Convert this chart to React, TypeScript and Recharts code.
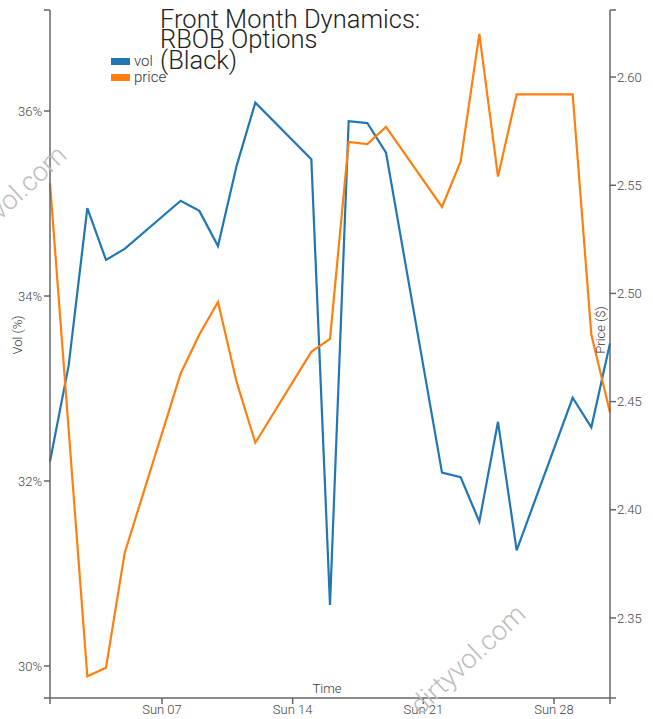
import React from 'react';
import { LineChart, Line, XAxis, YAxis } from 'recharts';

// trading days, July 2024
const dates = [
  '2024-07-01', '2024-07-02', '2024-07-03', '2024-07-04', '2024-07-05',
  '2024-07-08', '2024-07-09', '2024-07-10', '2024-07-11', '2024-07-12',
  '2024-07-15', '2024-07-16', '2024-07-17', '2024-07-18', '2024-07-19',
  '2024-07-22', '2024-07-23', '2024-07-24', '2024-07-25', '2024-07-26',
  '2024-07-29', '2024-07-30', '2024-07-31',
];

const vol = [
  32.21, 33.25, 34.95, 34.39, 34.51,
  35.03, 34.92, 34.54, 35.41, 36.09,
  35.48, 30.66, 35.89, 35.87, 35.55,
  32.09, 32.04, 31.56, 32.64, 31.25,
  32.9, 32.58, 33.49,
];

const price = [
  2.551, 2.437, 2.323, 2.327, 2.38,
  2.463, 2.481, 2.496, 2.459, 2.431,
  2.473, 2.479, 2.57, 2.569, 2.577,
  2.54, 2.561, 2.62, 2.554, 2.592,
  2.592, 2.481, 2.445,
];

const xTickDates = ['2024-07-01', '2024-07-07', '2024-07-14', '2024-07-21', '2024-07-28', '2024-07-31'];
const volTicks = [29.654, 30, 32, 34, 36, 37.092];
const priceTicks = [2.313, 2.35, 2.4, 2.45, 2.5, 2.55, 2.6, 2.631];

const toTs = (d: string) => {
  const [y, m, dd] = d.split('-').map(Number);
  return Date.UTC(y, m - 1, dd);
};

const data = dates.map((d, i) => ({ t: toTs(d), vol: vol[i], price: price[i] }));
const xTicks = xTickDates.map(toTs);
const xMin = toTs(dates[0]);
const xMax = toTs(dates[dates.length - 1]);

const font = 'Roboto, "Noto Sans", sans-serif';
const axisColor = '#666';
const tickStyle = { fontSize: 13, fill: '#444', fontFamily: font, fontWeight: 300 };

const fmtDate = (v: number) => {
  if (v === xMin || v === xMax) return '';
  const d = new Date(v);
  return 'Sun ' + String(d.getUTCDate()).padStart(2, '0');
};

const fmtVol = (v: number) => (v === volTicks[0] || v === volTicks[volTicks.length - 1] ? '' : `${v}%`);
const fmtPrice = (v: number) =>
  v === priceTicks[0] || v === priceTicks[priceTicks.length - 1] ? '' : v.toFixed(2);

const Overlay = () => (
  <svg
    width={653}
    height={719}
    style={{ position: 'absolute', left: 0, top: 0, pointerEvents: 'none' }}
  >
    <g fill="#bdbdbd" fontFamily={font} fontWeight={300} fontSize={27}>
      <text x={15} y={207} textAnchor="middle" transform="rotate(-43 15 207)">dirtyvol.com</text>
      <text x={474} y={666} textAnchor="middle" transform="rotate(-43 474 666)">dirtyvol.com</text>
    </g>
    <g fill="#222" fontFamily={font} fontWeight={300} fontSize={25.5}>
      <text x={160} y={28}>Front Month Dynamics:</text>
      <text x={160} y={48}>RBOB Options</text>
      <text x={160} y={69}>(Black)</text>
    </g>
    <rect x={111} y={58} width={19} height={7} fill="#1f77b4" />
    <rect x={111} y={74} width={19} height={7} fill="#ff7f0e" />
    <g fill="#333" fontFamily={font} fontWeight={300} fontSize={15}>
      <text x={134} y={66}>vol</text>
      <text x={134} y={82}>price</text>
    </g>
    <g fill="#333" fontFamily={font} fontWeight={300} fontSize={13}>
      <text x={22} y={335} textAnchor="middle" transform="rotate(-90 22 335)">Vol (%)</text>
      <text x={605} y={330} textAnchor="middle" transform="rotate(-90 605 330)">Price ($)</text>
      <text x={327} y={693} textAnchor="middle">Time</text>
    </g>
  </svg>
);

export default function App() {
  return (
    <div style={{ position: 'absolute', left: 0, top: 0, width: 653, height: 719, background: '#fff' }}>
      <LineChart width={653} height={719} data={data} margin={{ top: 10, right: 0, bottom: 0, left: 0 }}>
        <XAxis
          dataKey="t"
          type="number"
          domain={[xMin, xMax]}
          ticks={xTicks}
          tickFormatter={fmtDate}
          height={21}
          tickSize={6}
          tickMargin={1}
          interval={0}
          stroke={axisColor}
          strokeWidth={1.5}
          tick={tickStyle}
        />
        <YAxis
          yAxisId="vol"
          domain={[volTicks[0], volTicks[volTicks.length - 1]]}
          ticks={volTicks}
          tickFormatter={fmtVol}
          width={50}
          tickSize={6}
          tickMargin={2}
          interval={0}
          stroke={axisColor}
          strokeWidth={1.5}
          tick={tickStyle}
        />
        <YAxis
          yAxisId="price"
          orientation="right"
          domain={[priceTicks[0], priceTicks[priceTicks.length - 1]]}
          ticks={priceTicks}
          tickFormatter={fmtPrice}
          width={43}
          tickSize={6}
          tickMargin={1}
          interval={0}
          stroke={axisColor}
          strokeWidth={1.5}
          tick={tickStyle}
        />
        <Line
          yAxisId="vol"
          dataKey="vol"
          type="linear"
          stroke="#1f77b4"
          strokeWidth={2.2}
          dot={false}
          isAnimationActive={false}
        />
        <Line
          yAxisId="price"
          dataKey="price"
          type="linear"
          stroke="#ff7f0e"
          strokeWidth={2.2}
          dot={false}
          isAnimationActive={false}
        />
      </LineChart>
      <Overlay />
    </div>
  );
}
